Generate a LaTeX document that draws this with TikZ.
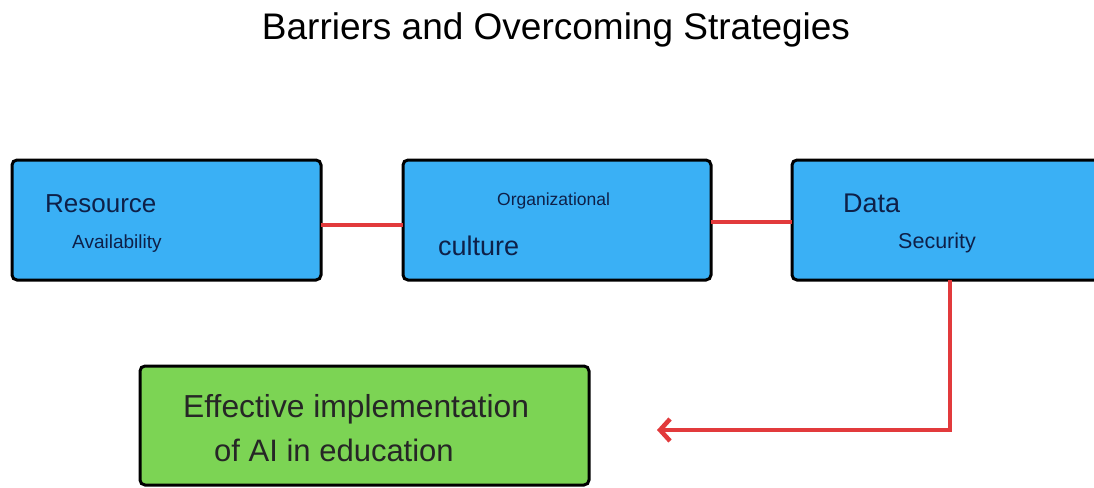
\documentclass[tikz,border=0pt]{standalone}
\usepackage{fontspec}
\setmainfont{Liberation Sans}
\usetikzlibrary{arrows.meta}
\definecolor{boxblue}{RGB}{58,176,245}
\definecolor{boxgreen}{RGB}{124,212,84}
\definecolor{linkred}{RGB}{226,58,60}
\definecolor{inktext}{RGB}{14,32,72}
\newcommand{\fs}[1]{\fontsize{#1}{#1}\selectfont}
\begin{document}
\begin{tikzpicture}[x=1pt,y=-1pt,
  barrier/.style={draw=black,line width=3pt,rounded corners=5pt,fill=boxblue,
    minimum height=120pt,outer sep=0pt,inner sep=0pt},
  goal/.style={draw=black,line width=3pt,rounded corners=5pt,fill=boxgreen,
    minimum width=449pt,minimum height=119pt,outer sep=0pt,inner sep=0pt},
  lbl/.style={anchor=base west,inner sep=0pt,text=inktext},
  glbl/.style={anchor=base west,inner sep=0pt,text=black!85},
  link/.style={draw=linkred,line width=4.5pt}]
\useasboundingbox (0,0) rectangle (1094,487);
\clip (0,0) rectangle (1094,487);
\fill[white] (0,0) rectangle (1094,487);

% title
\node[anchor=base,inner sep=0pt] (title) at (556,40) {\fs{37}Barriers and Overcoming Strategies};

% barrier boxes
\node[barrier,minimum width=309pt] (res) at (166.5,220) {};
\node[barrier,minimum width=308pt] (org) at (557,220) {};
\node[barrier,minimum width=318pt] (dat) at (951,220) {};

% goal box
\node[goal] (eff) at (364.5,425.5) {};

% box labels
\node[lbl] (resA) at (45,212) {\fs{26}Resource};
\node[lbl] (resB) at (72,248) {\fs{19}Availability};
\node[lbl] (orgA) at (497,205) {\fs{17.5}Organizational};
\node[lbl] (orgB) at (438,255) {\fs{27}culture};
\node[lbl] (datA) at (843,212) {\fs{27}Data};
\node[lbl] (datB) at (898,248) {\fs{21.5}Security};
\node[glbl] (effA) at (183,417) {\fs{31.8}Effective implementation};
\node[glbl] (effB) at (214,461) {\fs{31}of AI in education};

% connectors
\draw[link] (res.east |- 0,225) -- (org.west |- 0,225);
\draw[link] (org.east |- 0,222) -- (dat.west |- 0,222);
\coordinate (tip) at (657,430);
\draw[link,-{Straight Barb[length=10pt,width=22pt,line width=4.5pt]}]
  (dat.south -| 950,0) |- (tip);
\end{tikzpicture}
\end{document}
